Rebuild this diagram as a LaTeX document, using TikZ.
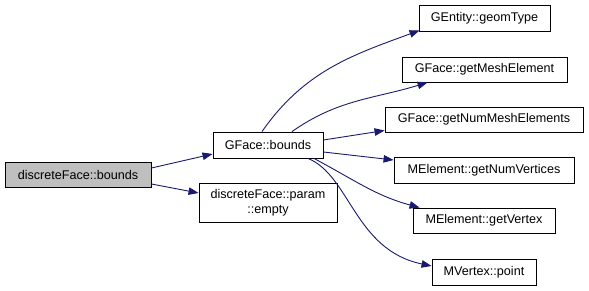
\documentclass[tikz,border=0pt]{standalone}
\usepackage{fontspec}
\setmainfont{Liberation Sans}
\usetikzlibrary{arrows.meta,calc}
\definecolor{edgeblue}{HTML}{191970}
\definecolor{focusgray}{HTML}{BFBFBF}
\begin{document}
\begin{tikzpicture}[x=1pt,y=-1pt,
  fn/.style={draw=black,line width=0.9pt,fill=white,rectangle,inner sep=0pt,
    font=\fontsize{12.6}{14.5}\selectfont,align=center},
  call/.style={draw=edgeblue,line width=0.9pt,
    -{Triangle[length=10pt,width=7.5pt]}}]
\useasboundingbox (0,0) rectangle (589,291);

% functions
\node[fn,fill=focusgray,minimum width=146pt,minimum height=25pt] (dfb) at (78,174.5) {discreteFace::bounds};
\node[fn,minimum width=110pt,minimum height=26pt] (gfb) at (268,145) {GFace::bounds};
\node[fn,minimum width=138pt,minimum height=39pt] (dfpe) at (268,202.5) {discreteFace::param\\::empty};
\node[fn,minimum width=131pt,minimum height=26pt] (get) at (484.5,18) {GEntity::geomType};
\node[fn,minimum width=165pt,minimum height=25pt] (gme) at (484.5,69.5) {GFace::getMeshElement};
\node[fn,minimum width=198pt,minimum height=25pt] (gnme) at (484,119.5) {GFace::getNumMeshElements};
\node[fn,minimum width=180pt,minimum height=26pt] (gnv) at (484,170) {MElement::getNumVertices};
\node[fn,minimum width=142pt,minimum height=25pt] (gv) at (484,220.5) {MElement::getVertex};
\node[fn,minimum width=104pt,minimum height=26pt] (mvp) at (484,272) {MVertex::point};

% calls
\draw[call] ($(dfb.east)+(0,-6.5)$) -- ($(gfb.west)+(0,9)$);
\draw[call] ($(dfb.east)+(0,9.5)$) -- ($(dfpe.west)+(0,-9.5)$);
\draw[call] ($(gfb.north)+(-6,0)$) to[out=55,in=200] ($(get.south west)+(1,-1)$);
\draw[call] ($(gfb.north)+(24,0)$) to[out=35,in=197] ($(gme.south west)+(26,0)$);
\draw[call] ($(gfb.east)+(0,-5)$) -- ($(gnme.west)+(0,11)$);
\draw[call] ($(gfb.east)+(0,7)$) -- ($(gnv.west)+(0,-10)$);
\draw[call] ($(gfb.south)+(46,0)$) to[out=-28,in=165] ($(gv.north west)+(7,0)$);
\draw[call] ($(gfb.south)+(40,0)$) .. controls +(42,17) and +(-77,-16) .. ($(mvp.west)+(0,-6)$);
\end{tikzpicture}
\end{document}
